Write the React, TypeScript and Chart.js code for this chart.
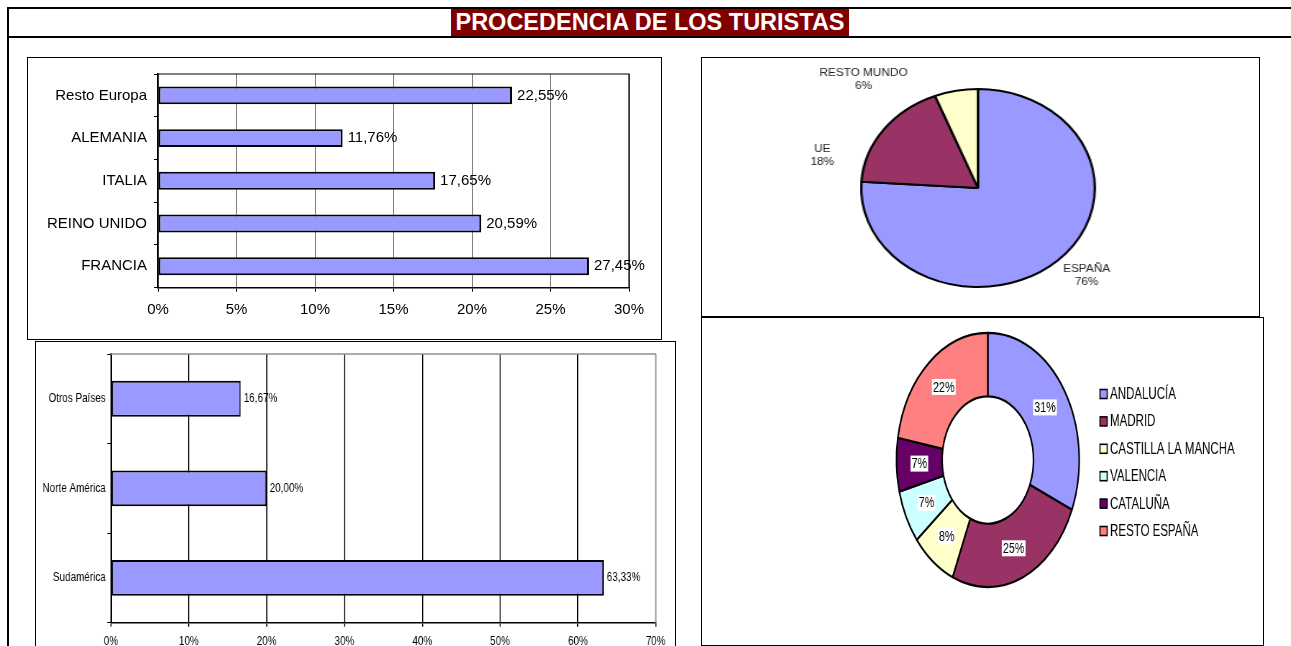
import React, { useEffect, useRef } from 'react';
import { Chart, registerables } from 'chart.js';

Chart.register(...registerables);

const FONT = "'Liberation Sans', Arial, Helvetica, sans-serif";
Chart.defaults.font.family = FONT;
Chart.defaults.color = '#000';

// ---- data ----
const europeCategories = ['Resto Europa', 'ALEMANIA', 'ITALIA', 'REINO UNIDO', 'FRANCIA'];
const europeValues = [22.55, 11.76, 17.65, 20.59, 27.45];

const americaCategories = ['Otros Países', 'Norte América', 'Sudamérica'];
const americaValues = [16.67, 20.0, 63.33];

const originLabels = ['ESPAÑA', 'UE', 'RESTO MUNDO'];
const originValues = [76, 18, 6];

const regionLabels = ['ANDALUCÍA', 'MADRID', 'CASTILLA LA MANCHA', 'VALENCIA', 'CATALUÑA', 'RESTO ESPAÑA'];
const regionValues = [31.4, 24.9, 7.9, 6.8, 6.8, 22.2];

// ---- styles ----
const BAR_FILL = '#9999FF';
const ORIGIN_COLORS = ['#9999FF', '#993366', '#FFFFCC'];
const REGION_COLORS = ['#9999FF', '#993366', '#FFFFCC', '#CCFFFF', '#660066', '#FF8080'];
// label anchor offsets from pie centre (unscaled canvas px)
const PIE_LABEL_OFFSETS = [
  [92, 88],
  [-132, -32],
  [-97, -108],
];

const pct2 = (v: number) => v.toFixed(2).replace('.', ',') + '%';

const valueLabels = (size: number, gap: number) => ({
  id: 'valueLabels',
  afterDatasetsDraw(chart: any) {
    const { ctx } = chart;
    const meta = chart.getDatasetMeta(0);
    const data = chart.data.datasets[0].data as number[];
    ctx.save();
    ctx.font = `${size}px ${FONT}`;
    ctx.fillStyle = '#000';
    ctx.textAlign = 'left';
    ctx.textBaseline = 'middle';
    meta.data.forEach((bar: any, i: number) => {
      ctx.fillText(pct2(data[i]), bar.x + gap, bar.y);
    });
    ctx.restore();
  },
});

const framePlugin = (color: string, width: number) => ({
  id: 'frame',
  afterDatasetsDraw(chart: any) {
    const { ctx, chartArea: a } = chart;
    ctx.save();
    ctx.strokeStyle = color;
    ctx.lineWidth = width;
    ctx.beginPath();
    ctx.moveTo(a.left, a.top);
    ctx.lineTo(a.right, a.top);
    ctx.lineTo(a.right, a.bottom);
    ctx.stroke();
    ctx.restore();
  },
});

const pieLabels = {
  id: 'pieLabels',
  afterDraw(chart: any) {
    const { ctx } = chart;
    const meta = chart.getDatasetMeta(0);
    const data = chart.data.datasets[0].data as number[];
    const total = data.reduce((a, b) => a + b, 0);
    const c = meta.data[0];
    ctx.save();
    ctx.font = `10px ${FONT}`;
    ctx.fillStyle = '#222';
    ctx.textAlign = 'center';
    ctx.textBaseline = 'middle';
    chart.data.labels.forEach((lab: string, i: number) => {
      const [dx, dy] = PIE_LABEL_OFFSETS[i];
      ctx.fillText(lab, c.x + dx, c.y + dy - 6.5);
      ctx.fillText(Math.round((data[i] / total) * 100) + '%', c.x + dx, c.y + dy + 6.5);
    });
    ctx.restore();
  },
};

const doughnutLabels = {
  id: 'doughnutLabels',
  afterDatasetsDraw(chart: any) {
    const { ctx } = chart;
    const meta = chart.getDatasetMeta(0);
    const data = chart.data.datasets[0].data as number[];
    const total = data.reduce((a, b) => a + b, 0);
    ctx.save();
    ctx.font = `15px ${FONT}`;
    ctx.textAlign = 'center';
    ctx.textBaseline = 'middle';
    meta.data.forEach((arc: any, i: number) => {
      const p = arc.getCenterPoint();
      const txt = Math.round((data[i] / total) * 100) + '%';
      const w = ctx.measureText(txt).width;
      ctx.fillStyle = '#fff';
      ctx.fillRect(p.x - w / 2 - 1.5, p.y - 8, w + 3, 16);
      ctx.fillStyle = '#000';
      ctx.fillText(txt, p.x, p.y + 0.5);
    });
    ctx.restore();
  },
};

const sideLegend = {
  id: 'sideLegend',
  afterDraw(chart: any) {
    const { ctx } = chart;
    const c = chart.getDatasetMeta(0).data[0];
    const colors = chart.data.datasets[0].backgroundColor as string[];
    ctx.save();
    ctx.font = `16px ${FONT}`;
    ctx.textAlign = 'left';
    ctx.textBaseline = 'middle';
    chart.data.labels.forEach((lab: string, i: number) => {
      const y = c.y - 66 + i * 27.4;
      const x = c.x + 156;
      ctx.fillStyle = colors[i];
      ctx.fillRect(x, y - 4.5, 10, 9);
      ctx.strokeStyle = '#000';
      ctx.lineWidth = 1.6;
      ctx.strokeRect(x, y - 4.5, 10, 9);
      ctx.fillStyle = '#000';
      ctx.fillText(lab, x + 14, y + 0.5);
    });
    ctx.restore();
  },
};

function Panel({ left, top, width, height, scale, canvasRef }: any) {
  const innerW = width - 2;
  const innerH = height - 2;
  const preW = Math.round(innerW / scale);
  return (
    <div
      style={{
        position: 'absolute',
        left,
        top,
        width,
        height,
        border: '1px solid #000',
        boxSizing: 'border-box',
        overflow: 'hidden',
        background: '#fff',
      }}
    >
      <div style={{ width: preW, height: innerH, transform: `scaleX(${scale})`, transformOrigin: '0 0' }}>
        <canvas ref={canvasRef} width={preW} height={innerH} style={{ display: 'block' }} />
      </div>
    </div>
  );
}

export default function App() {
  const r1 = useRef<HTMLCanvasElement>(null);
  const r2 = useRef<HTMLCanvasElement>(null);
  const r3 = useRef<HTMLCanvasElement>(null);
  const r4 = useRef<HTMLCanvasElement>(null);

  useEffect(() => {
    const charts: Chart[] = [];

    charts.push(
      new Chart(r1.current!, {
        type: 'bar',
        data: {
          labels: europeCategories,
          datasets: [
            {
              data: europeValues,
              backgroundColor: BAR_FILL,
              borderColor: '#000',
              borderWidth: 2,
              borderSkipped: false,
              barPercentage: 0.42,
              categoryPercentage: 1,
            },
          ],
        },
        options: {
          indexAxis: 'y',
          responsive: false,
          animation: false,
          layout: { padding: { left: 0, top: 14, right: 32, bottom: 0 } },
          plugins: { legend: { display: false }, tooltip: { enabled: false } },
          scales: {
            x: {
              min: 0,
              max: 30,
              ticks: { stepSize: 5, callback: (v: any) => v + '%', color: '#000', font: { size: 15 }, padding: 9 },
              grid: { color: '#808080', tickColor: '#000', tickLength: 4 },
              border: { color: '#000', width: 1.6 },
              afterFit: (s: any) => {
                s.height = 51.3;
              },
            },
            y: {
              ticks: { color: '#000', font: { size: 15 }, padding: 7 },
              grid: { drawOnChartArea: false, tickColor: '#000', tickLength: 4 },
              border: { color: '#000', width: 1.6 },
              afterFit: (s: any) => {
                s.width = 130;
              },
            },
          },
        },
        plugins: [valueLabels(15, 5), framePlugin('#000', 1.2)],
      } as any)
    );

    charts.push(
      new Chart(r2.current!, {
        type: 'bar',
        data: {
          labels: americaCategories,
          datasets: [
            {
              data: americaValues,
              backgroundColor: BAR_FILL,
              borderColor: '#000',
              borderWidth: 2,
              borderSkipped: false,
              barPercentage: 0.4,
              categoryPercentage: 1,
            },
          ],
        },
        options: {
          indexAxis: 'y',
          responsive: false,
          animation: false,
          layout: { padding: { left: 0, top: 12, right: 25.6, bottom: 0 } },
          plugins: { legend: { display: false }, tooltip: { enabled: false } },
          scales: {
            x: {
              min: 0,
              max: 70,
              ticks: { stepSize: 10, callback: (v: any) => v + '%', color: '#000', font: { size: 13 }, padding: 7 },
              grid: {
                color: (c: any) => (c.tick && c.tick.value === 70 ? '#909090' : '#000'),
                lineWidth: 1.4,
                tickColor: '#000',
                tickLength: 4,
              },
              border: { color: '#000', width: 1.6 },
              afterFit: (s: any) => {
                s.height = 36.3;
              },
            },
            y: {
              ticks: { color: '#000', font: { size: 13 }, padding: 2 },
              grid: { drawOnChartArea: false, tickColor: '#000', tickLength: 5 },
              border: { color: '#000', width: 2 },
              afterFit: (s: any) => {
                s.width = 98.7;
              },
            },
          },
        },
        plugins: [valueLabels(13, 4), framePlugin('#909090', 1.4)],
      } as any)
    );

    charts.push(
      new Chart(r3.current!, {
        type: 'pie',
        data: {
          labels: originLabels,
          datasets: [{ data: originValues, backgroundColor: ORIGIN_COLORS, borderColor: '#000', borderWidth: 2 }],
        },
        options: {
          responsive: false,
          animation: false,
          layout: { padding: { left: 0, top: 30, right: 4.2, bottom: 28 } },
          plugins: { legend: { display: false }, tooltip: { enabled: false } },
        },
        plugins: [pieLabels],
      } as any)
    );

    charts.push(
      new Chart(r4.current!, {
        type: 'doughnut',
        data: {
          labels: regionLabels,
          datasets: [{ data: regionValues, backgroundColor: REGION_COLORS, borderColor: '#000', borderWidth: 2.2 }],
        },
        options: {
          responsive: false,
          animation: false,
          cutout: '50%',
          layout: { padding: { left: 269.3, top: 13.8, right: 254.3, bottom: 56.8 } },
          plugins: { legend: { display: false }, tooltip: { enabled: false } },
        },
        plugins: [doughnutLabels, sideLegend],
      } as any)
    );

    return () => charts.forEach((c) => c.destroy());
  }, []);

  return (
    <div
      style={{
        position: 'fixed',
        left: 0,
        top: 0,
        width: 1291,
        height: 646,
        overflow: 'hidden',
        background: '#fff',
        fontFamily: FONT,
      }}
    >
      <div style={{ position: 'absolute', left: 7, top: 7, width: 1284, height: 2, background: '#000' }} />
      <div style={{ position: 'absolute', left: 7, top: 7, width: 2, height: 639, background: '#000' }} />
      <div style={{ position: 'absolute', left: 7, top: 36, width: 1284, height: 2, background: '#000' }} />
      <div
        style={{
          position: 'absolute',
          left: 451,
          top: 9,
          width: 398,
          height: 27,
          background: '#800000',
          color: '#fff',
          fontWeight: 'bold',
          fontSize: 23.5,
          lineHeight: '27px',
          textAlign: 'center',
          whiteSpace: 'nowrap',
        }}
      >
        PROCEDENCIA DE LOS TURISTAS
      </div>
      <Panel left={27} top={57} width={635} height={283} scale={1} canvasRef={r1} />
      <Panel left={35} top={341} width={641} height={319} scale={0.76} canvasRef={r2} />
      <Panel left={701} top={57} width={559} height={260} scale={1.18} canvasRef={r3} />
      <Panel left={701} top={317} width={563} height={329} scale={0.719} canvasRef={r4} />
    </div>
  );
}
